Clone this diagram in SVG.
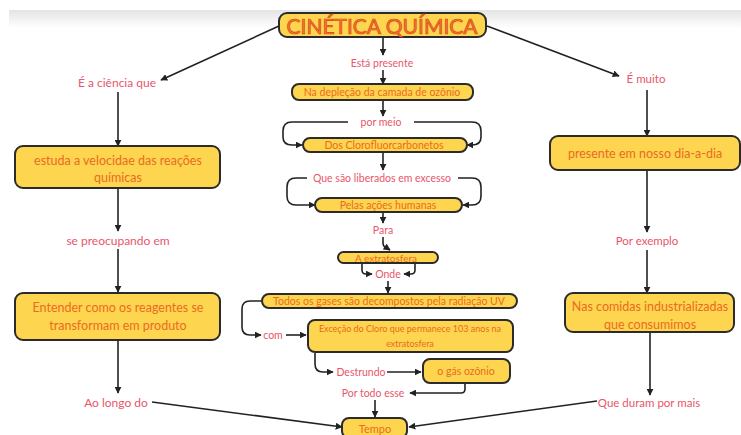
<svg xmlns="http://www.w3.org/2000/svg" width="741" height="435" viewBox="0 0 741 435">
<defs>
<linearGradient id="band" x1="0" y1="0" x2="0" y2="1">
<stop offset="0" stop-color="#e4e4e4"/>
<stop offset="1" stop-color="#ffffff"/>
</linearGradient>
<marker id="ah" viewBox="0 0 10 10" refX="9" refY="5" markerWidth="7" markerHeight="7" orient="auto" markerUnits="userSpaceOnUse">
<path d="M0,0 L10,5 L0,10 z" fill="#222"/>
</marker>
</defs>
<style>
.box{fill:#fdd54e;stroke:#2b2b2b;stroke-width:2}
.bt{font-family:"Lato","Open Sans",sans-serif;fill:#ec6a24;text-anchor:middle;dominant-baseline:central}
.lb{font-family:"Lato","Open Sans",sans-serif;fill:#e9566a;text-anchor:middle;dominant-baseline:central}
.c{fill:none;stroke:#222;stroke-width:1.6;marker-end:url(#ah)}
.ttl{font-family:"Lato","Open Sans",sans-serif;font-size:21px;fill:#f27a2a;stroke:#d8441e;stroke-width:0.7;text-anchor:middle;dominant-baseline:central}
</style>
<rect width="741" height="435" fill="#fff"/>
<rect x="9" y="10" width="732" height="18" fill="url(#band)"/>

<g id="connectors">
<path class="c" d="M279,26 L161,80"/>
<path class="c" d="M487,26 L619,76"/>
<path class="c" d="M118,92 L118,146"/>
<path class="c" d="M118,189 L118,231"/>
<path class="c" d="M118,249 L118,292"/>
<path class="c" d="M118,341 L118,393"/>
<path class="c" d="M152,402 L342,427"/>
<path class="c" d="M647,90 L647,136"/>
<path class="c" d="M647,171 L647,232"/>
<path class="c" d="M647,250 L647,293"/>
<path class="c" d="M650,333 L650,395"/>
<path class="c" d="M597,401 L409,427"/>
<path class="c" d="M383,38 L383,55"/>
<path class="c" d="M383,70 L383,84"/>
<path class="c" d="M383,101 L383,116"/>
<path class="c" d="M348,122 L292,122 Q283,122 283,131 L283,137 Q283,145 292,145 L302,145"/>
<path class="c" d="M414,122 L472,122 Q481,122 481,131 L481,137 Q481,145 472,145 L467,145"/>
<path class="c" d="M383,153 L383,170"/>
<path class="c" d="M307,178 L296,178 Q287,178 287,187 L287,196 Q287,205 296,205 L315,205"/>
<path class="c" d="M458,178 L472,178 Q481,178 481,187 L481,196 Q481,205 472,205 L463,205"/>
<path class="c" d="M383,213 L383,223"/>
<path class="c" d="M383,237 L383,243 Q383,247 387,248 L390,250"/>
<path class="c" d="M362,263 L362,270 Q362,274 366,274 L372,274"/>
<path class="c" d="M415,263 L415,270 Q415,274 411,274 L404,274"/>
<path class="c" d="M388,281 L388,293"/>
<path class="c" d="M262,301 L250,301 Q242,301 242,309 L242,327 Q242,335 250,335 L261,335"/>
<path class="c" d="M286,335 L306,335"/>
<path class="c" d="M315,353 L315,364 Q315,372 323,372 L333,372"/>
<path class="c" d="M387,372 L421,372"/>
<path class="c" d="M465,384 L465,389 Q465,393 461,393 L410,393"/>
<path class="c" d="M375,400 L375,417"/>
</g>

<g id="title">
<rect class="box" x="279" y="13" width="207" height="24" rx="8"/>
<text class="ttl" x="382" y="25.5">CINÉTICA QUÍMICA</text>
</g>

<g id="lbl-ciencia"><text class="lb" x="117" y="82" font-size="12">É a ciência que</text></g>
<g id="box-estuda">
<rect class="box" x="15" y="146" width="205" height="42" rx="8"/>
<text class="bt" x="118" y="160" font-size="12.5">estuda a velocidae das reações</text>
<text class="bt" x="118" y="177" font-size="12.5">químicas</text>
</g>
<g id="lbl-preocupando"><text class="lb" x="118" y="240" font-size="12">se preocupando em</text></g>
<g id="box-entender">
<rect class="box" x="15" y="293" width="205" height="47" rx="8"/>
<text class="bt" x="118" y="307" font-size="12.5">Entender como os reagentes se</text>
<text class="bt" x="118" y="325" font-size="12.5">transformam em produto</text>
</g>
<g id="lbl-aolongo"><text class="lb" x="116" y="402" font-size="12">Ao longo do</text></g>

<g id="lbl-muito"><text class="lb" x="646" y="78" font-size="11.5">É muito</text></g>
<g id="box-presente">
<rect class="box" x="550" y="136" width="190" height="34" rx="8"/>
<text class="bt" x="645" y="153" font-size="12.5">presente em nosso dia-a-dia</text>
</g>
<g id="lbl-exemplo"><text class="lb" x="647" y="240" font-size="11.5">Por exemplo</text></g>
<g id="box-comidas">
<rect class="box" x="565" y="293" width="169" height="39" rx="8"/>
<text class="bt" x="650" y="306" font-size="12.5">Nas comidas industrializadas</text>
<text class="bt" x="650" y="324" font-size="12.5">que consumimos</text>
</g>
<g id="lbl-duram"><text class="lb" x="649" y="402" font-size="11.5">Que duram por mais</text></g>

<g id="lbl-esta"><text class="lb" x="382" y="63" font-size="10.5">Está presente</text></g>
<g id="box-deplecao">
<rect class="box" x="292" y="84" width="181" height="16" rx="7"/>
<text class="bt" x="382" y="92" font-size="10.5">Na depleção da camada de ozônio</text>
</g>
<g id="lbl-meio"><text class="lb" x="381" y="122" font-size="10.5">por meio</text></g>
<g id="box-cfc">
<rect class="box" x="303" y="138" width="164" height="14" rx="7"/>
<text class="bt" x="384" y="145" font-size="10.5">Dos Clorofluorcarbonetos</text>
</g>
<g id="lbl-liberados"><text class="lb" x="382" y="178" font-size="10.5">Que são liberados em excesso</text></g>
<g id="box-acoes">
<rect class="box" x="315" y="198" width="147" height="14" rx="7"/>
<text class="bt" x="388" y="205" font-size="10.5">Pelas ações humanas</text>
</g>
<g id="lbl-para"><text class="lb" x="383" y="230" font-size="10.5">Para</text></g>
<g id="box-extrato">
<rect class="box" x="338" y="252" width="100" height="11" rx="5.5"/>
<text class="bt" x="386" y="257.5" font-size="10">A extratosfera</text>
</g>
<g id="lbl-onde"><text class="lb" x="388" y="274" font-size="10.5">Onde</text></g>
<g id="box-gases">
<rect class="box" x="262" y="294" width="255" height="14" rx="7"/>
<text class="bt" x="389" y="301" font-size="10.5">Todos os gases são decompostos pela radiação UV</text>
</g>
<g id="lbl-com"><text class="lb" x="273" y="335" font-size="10.5">com</text></g>
<g id="box-cloro">
<rect class="box" x="308" y="320" width="205" height="32" rx="7"/>
<text class="bt" x="410" y="328" font-size="9">Exceção do Cloro que permanece 103 anos na</text>
<text class="bt" x="410" y="343" font-size="9">extratosfera</text>
</g>
<g id="lbl-destrundo"><text class="lb" x="361" y="372" font-size="10.5">Destrundo</text></g>
<g id="box-ozonio">
<rect class="box" x="423" y="359" width="87" height="24" rx="7"/>
<text class="bt" x="466" y="371" font-size="10.5">o gás ozônio</text>
</g>
<g id="lbl-portodo"><text class="lb" x="373" y="393" font-size="10.5">Por todo esse</text></g>
<g id="box-tempo">
<rect class="box" x="342" y="418" width="65" height="20" rx="7"/>
<text class="bt" x="375" y="428" font-size="11">Tempo</text>
</g>
</svg>
